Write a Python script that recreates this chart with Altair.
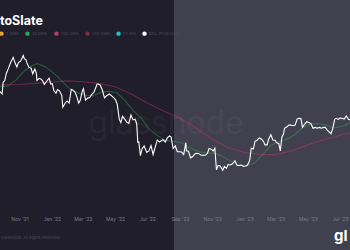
import altair as alt
import pandas as pd

# ---------------- data ----------------
price_dates = [
    "2021-09-25", "2021-09-29", "2021-10-01", "2021-10-04", "2021-10-07", "2021-10-11", "2021-10-15",
    "2021-10-20", "2021-10-24", "2021-10-27", "2021-10-30", "2021-11-03", "2021-11-08", "2021-11-10",
    "2021-11-13", "2021-11-16", "2021-11-19", "2021-11-23", "2021-11-26", "2021-11-30", "2021-12-03",
    "2021-12-04", "2021-12-08", "2021-12-12", "2021-12-15", "2021-12-18", "2021-12-22", "2021-12-27",
    "2021-12-30", "2022-01-02", "2022-01-05", "2022-01-09", "2022-01-12", "2022-01-16", "2022-01-20",
    "2022-01-22", "2022-01-26", "2022-01-30", "2022-02-03", "2022-02-07", "2022-02-10", "2022-02-14",
    "2022-02-17", "2022-02-21", "2022-02-24", "2022-02-28", "2022-03-02", "2022-03-06", "2022-03-10",
    "2022-03-14", "2022-03-18", "2022-03-22", "2022-03-28", "2022-03-30", "2022-04-03", "2022-04-07",
    "2022-04-11", "2022-04-15", "2022-04-20", "2022-04-25", "2022-04-28", "2022-05-02", "2022-05-05",
    "2022-05-09", "2022-05-12", "2022-05-15", "2022-05-19", "2022-05-23", "2022-05-27", "2022-05-31",
    "2022-06-04", "2022-06-08", "2022-06-11", "2022-06-13", "2022-06-15", "2022-06-18", "2022-06-21",
    "2022-06-25", "2022-06-30", "2022-07-04", "2022-07-08", "2022-07-12", "2022-07-16", "2022-07-20",
    "2022-07-24", "2022-07-27", "2022-07-31", "2022-08-04", "2022-08-08", "2022-08-12", "2022-08-15",
    "2022-08-19", "2022-08-23", "2022-08-27", "2022-08-31", "2022-09-04", "2022-09-08", "2022-09-12",
    "2022-09-13", "2022-09-17", "2022-09-21", "2022-09-25", "2022-09-29", "2022-10-03", "2022-10-07",
    "2022-10-11", "2022-10-15", "2022-10-19", "2022-10-23", "2022-10-26", "2022-10-30", "2022-11-03",
    "2022-11-06", "2022-11-09", "2022-11-12", "2022-11-16", "2022-11-21", "2022-11-24", "2022-11-28",
    "2022-12-01", "2022-12-05", "2022-12-09", "2022-12-14", "2022-12-18", "2022-12-22", "2022-12-26",
    "2022-12-30", "2023-01-03", "2023-01-07", "2023-01-11", "2023-01-14", "2023-01-18", "2023-01-21",
    "2023-01-25", "2023-01-29", "2023-02-02", "2023-02-06", "2023-02-09", "2023-02-13", "2023-02-16",
    "2023-02-20", "2023-02-24", "2023-02-28", "2023-03-03", "2023-03-07", "2023-03-10", "2023-03-13",
    "2023-03-16", "2023-03-18", "2023-03-22", "2023-03-26", "2023-03-30", "2023-04-03", "2023-04-07",
    "2023-04-11", "2023-04-14", "2023-04-18", "2023-04-21", "2023-04-25", "2023-04-29", "2023-05-03",
    "2023-05-07", "2023-05-11", "2023-05-15", "2023-05-19", "2023-05-23", "2023-05-27", "2023-05-31",
    "2023-06-03", "2023-06-07", "2023-06-10", "2023-06-14", "2023-06-17", "2023-06-21", "2023-06-24",
    "2023-06-28", "2023-07-01", "2023-07-05", "2023-07-09", "2023-07-13", "2023-07-17", "2023-07-20",
]
price_usd = [
    42800, 41500, 48200, 49200, 53800, 57400, 61600,
    66000, 61000, 58400, 61900, 62900, 67500, 64900,
    64100, 60400, 58100, 57500, 53600, 57000, 53700,
    49200, 50600, 50100, 48900, 46800, 48600, 50700,
    47100, 47300, 43400, 41900, 43900, 43100, 40700,
    35100, 36800, 38000, 37000, 44000, 43600, 42500,
    40500, 37000, 38300, 43200, 44400, 38400, 39400,
    39700, 41300, 42400, 47100, 47100, 46400, 43500,
    39500, 40600, 41500, 40400, 39700, 38500, 36500,
    30100, 28900, 31300, 30300, 29100, 28600, 31800,
    29900, 30200, 28400, 22500, 22600, 19000, 20700,
    21500, 19800, 20200, 21600, 19300, 21200, 23200,
    22600, 22900, 23300, 22600, 23800, 24400, 24100,
    20800, 21500, 20000, 20000, 19900, 19300, 22400,
    20200, 20100, 18500, 18800, 19400, 19600, 19500,
    19100, 19100, 19100, 19600, 20800, 20600, 20200,
    20900, 15900, 16800, 16700, 15800, 16600, 16200,
    17000, 16900, 17100, 17800, 16800, 16800, 16900,
    16600, 16700, 16900, 17900, 20900, 20700, 22800,
    23100, 23800, 23500, 22800, 21800, 21800, 23500,
    24800, 23200, 23100, 22400, 22200, 20200, 24100,
    25000, 26900, 27300, 28000, 28000, 27800, 28000,
    30300, 30500, 30400, 27300, 28300, 29200, 28900,
    28500, 26900, 27200, 26900, 27200, 26900, 27200,
    27200, 26300, 25800, 25100, 26500, 30100, 30500,
    30100, 30600, 30500, 30200, 31400, 30100, 29900,
]

ma_short_dates = [
    "2021-09-25", "2021-10-10", "2021-10-25", "2021-11-10", "2021-11-25", "2021-12-05", "2021-12-20",
    "2022-01-05", "2022-01-20", "2022-02-05", "2022-02-20", "2022-03-05", "2022-03-20", "2022-04-05",
    "2022-04-20", "2022-05-05", "2022-05-20", "2022-06-05", "2022-06-20", "2022-07-05", "2022-07-20",
    "2022-08-05", "2022-08-20", "2022-09-05", "2022-09-20", "2022-10-05", "2022-10-20", "2022-11-05",
    "2022-11-20", "2022-12-05", "2022-12-20", "2023-01-05", "2023-01-20", "2023-02-05", "2023-02-20",
    "2023-03-05", "2023-03-20", "2023-04-05", "2023-04-20", "2023-05-05", "2023-05-20", "2023-06-05",
    "2023-06-20", "2023-07-05", "2023-07-20",
]
ma_short_usd = [
    45500, 46000, 49500, 55500, 59500, 61000, 58500,
    54000, 49000, 44000, 42000, 41000, 40500, 42500,
    43000, 42000, 38000, 33500, 30500, 26500, 24500,
    23000, 22800, 22300, 21000, 20100, 19600, 19700,
    18900, 17800, 17000, 16700, 17300, 19300, 21600,
    22700, 23200, 24600, 26900, 28200, 28600, 28000,
    27000, 27600, 28800,
]

ma_long_dates = [
    "2021-09-25", "2021-11-01", "2021-12-01", "2022-01-01", "2022-02-01", "2022-03-01", "2022-04-01",
    "2022-05-01", "2022-06-01", "2022-07-01", "2022-08-01", "2022-09-01", "2022-10-01", "2022-11-01",
    "2022-12-01", "2023-01-01", "2023-02-01", "2023-03-01", "2023-04-01", "2023-05-01", "2023-06-01",
    "2023-07-01", "2023-07-20",
]
ma_long_usd = [
    46500, 46800, 47500, 48300, 49000, 48500, 47500,
    45500, 41500, 37000, 33500, 30500, 27000, 23500,
    21000, 19800, 19300, 19300, 20200, 21800, 23300,
    24600, 25300,
]

series_names = ["7 DMA", "50 DMA", "200 DMA", "365 DMA", "2Y MA", "BTC: Price [USD]"]
series_colors = ["#e8a33a", "#35a655", "#c73866", "#7a2e3a", "#17c8d4", "#ffffff"]

tick_dates = [(2021, 11), (2022, 1), (2022, 3), (2022, 5), (2022, 7), (2022, 9),
              (2022, 11), (2023, 1), (2023, 3), (2023, 5), (2023, 7)]

title_text = "toSlate"
copyright_text = "Glassnode. All Rights Reserved."
watermark_text = "glassnode"
logo_text = "gl"

# ---------------- frames ----------------
price_df = pd.DataFrame({"date": price_dates, "usd": price_usd, "series": series_names[5]})
ma_df = pd.concat([
    pd.DataFrame({"date": ma_short_dates, "usd": ma_short_usd, "series": series_names[1]}),
    pd.DataFrame({"date": ma_long_dates, "usd": ma_long_usd, "series": series_names[2]}),
])

W, H = 350, 212
FONT = "Inter"

x_scale = alt.Scale(type="utc",
                    domain=[alt.DateTime(year=2021, month=9, date=25, utc=True),
                            alt.DateTime(year=2023, month=7, date=20, utc=True)])
y_scale = alt.Scale(type="log", domain=[9320, 136400], nice=False, zero=False)
color_scale = alt.Scale(domain=series_names, range=series_colors)

x_axis = alt.Axis(
    values=[alt.DateTime(year=y, month=m, date=1, utc=True) for y, m in tick_dates],
    format="%b '%y", labelFontSize=5, labelColor="#7d7c8e", labelFont=FONT,
    domain=False, ticks=False, grid=False, labelPadding=4, title=None,
    zindex=2, labelOverlap=False,
)

legend = alt.Legend(
    orient="none", legendX=-1, legendY=31, direction="horizontal", title=None,
    symbolType="circle", symbolSize=6, symbolStrokeWidth=2, labelFontSize=4,
    labelColor="#4d4c5e", labelFont=FONT, labelOffset=2, columnPadding=3,
    symbolOpacity=1,
)

bg_right = alt.Chart(pd.DataFrame({"k": [0]})).mark_rect(color="#41404f").encode(
    x=alt.value(174), x2=alt.value(W), y=alt.value(0), y2=alt.value(250))

watermark = alt.Chart(pd.DataFrame({"t": [watermark_text]})).mark_text(
    font=FONT, fontSize=32, color="#ffffff", opacity=0.035, align="center", baseline="middle"
).encode(x=alt.value(166), y=alt.value(124), text="t:N")

ma_lines = alt.Chart(ma_df).mark_line(strokeWidth=1.1, opacity=0.45).encode(
    x=alt.X("date:T", scale=x_scale, axis=x_axis),
    y=alt.Y("usd:Q", scale=y_scale, axis=None),
    color=alt.Color("series:N", scale=color_scale, legend=legend),
    detail="series:N",
)

price_line = alt.Chart(price_df).mark_line(strokeWidth=1.1).encode(
    x=alt.X("date:T", scale=x_scale, axis=x_axis),
    y=alt.Y("usd:Q", scale=y_scale, axis=None),
    color=alt.Color("series:N", scale=color_scale, legend=legend),
)

title = alt.Chart(pd.DataFrame({"t": [title_text]})).mark_text(
    font=FONT, fontSize=12.5, fontWeight="bold", color="#ffffff", align="left", baseline="middle"
).encode(x=alt.value(0), y=alt.value(21), text="t:N")

copyright_ = alt.Chart(pd.DataFrame({"t": [copyright_text]})).mark_text(
    font=FONT, fontSize=4, color="#4d4c5e", align="left", baseline="middle"
).encode(x=alt.value(1), y=alt.value(238), text="t:N")

logo = alt.Chart(pd.DataFrame({"t": [logo_text]})).mark_text(
    font=FONT, fontSize=15, fontWeight="bold", color="#ffffff", align="left", baseline="middle"
).encode(x=alt.value(334), y=alt.value(236), text="t:N")

chart = alt.layer(bg_right, watermark, ma_lines, price_line, title, copyright_, logo).properties(
    width=W, height=H,
    autosize=alt.AutoSizeParams(type="none"),
    padding={"left": 0, "top": 0, "right": 0, "bottom": 38},
    background="#1f1e2a",
).configure_view(stroke=None)

chart.save("out.html", embed_options={"renderer": "svg", "actions": False})
